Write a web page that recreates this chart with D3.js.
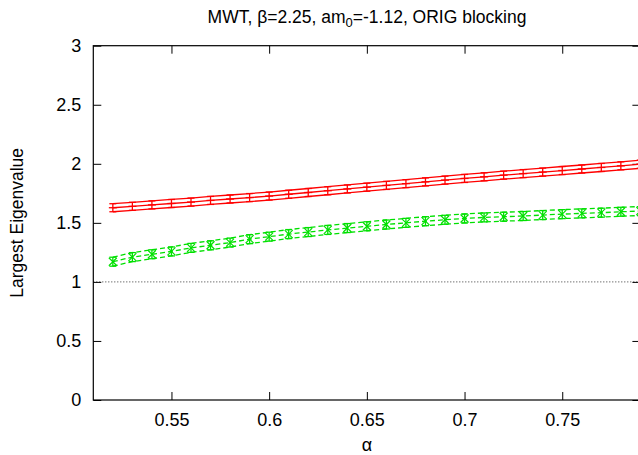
<!DOCTYPE html>
<html>
<head>
<meta charset="utf-8">
<script src="https://cdn.jsdelivr.net/npm/d3@7"></script>
<style>
  html, body { margin: 0; padding: 0; background: #fff; }
  svg { display: block; font-family: "Liberation Sans", Arial, Helvetica, sans-serif; }
</style>
</head>
<body>
<svg id="chart" width="638" height="455"></svg>
<script>
// Largest eigenvalue versus alpha, two runs with statistical errors
const alphas = [0.52, 0.53, 0.54, 0.55, 0.56, 0.57, 0.58, 0.59, 0.60, 0.61,
                0.62, 0.63, 0.64, 0.65, 0.66, 0.67, 0.68, 0.69, 0.70, 0.71,
                0.72, 0.73, 0.74, 0.75, 0.76, 0.77, 0.78, 0.79];

const redMean = [1.628, 1.640, 1.652, 1.664, 1.676, 1.690, 1.702, 1.714, 1.727, 1.742,
                 1.757, 1.772, 1.787, 1.802, 1.817, 1.832, 1.847, 1.862, 1.876, 1.890,
                 1.904, 1.917, 1.930, 1.943, 1.956, 1.969, 1.983, 1.996];
const redErr = [0.034, 0.034, 0.034, 0.034, 0.034, 0.034, 0.034, 0.034, 0.034, 0.034,
                0.034, 0.034, 0.034, 0.034, 0.034, 0.034, 0.034, 0.034, 0.034, 0.034,
                0.034, 0.034, 0.034, 0.034, 0.034, 0.034, 0.034, 0.034];

const greenMean = [1.171, 1.210, 1.234, 1.258, 1.288, 1.310, 1.333, 1.362, 1.383, 1.405,
                   1.422, 1.440, 1.456, 1.471, 1.486, 1.500, 1.514, 1.526, 1.537, 1.546,
                   1.552, 1.558, 1.566, 1.574, 1.580, 1.586, 1.594, 1.600];
const greenErr = [0.038, 0.038, 0.038, 0.038, 0.038, 0.038, 0.038, 0.038, 0.038, 0.038,
                  0.038, 0.038, 0.038, 0.038, 0.038, 0.038, 0.038, 0.038, 0.038, 0.038,
                  0.038, 0.038, 0.038, 0.038, 0.038, 0.038, 0.038, 0.038];

const xTicks = [0.55, 0.6, 0.65, 0.7, 0.75];
const yTicks = [0, 0.5, 1, 1.5, 2, 2.5, 3];
const refLevel = 1;

const svg = d3.select("#chart");
const plotL = 93.3, plotR = 640.4, plotT = 45.7, plotB = 400;

const x = d3.scaleLinear().domain([0.51, 0.79]).range([plotL, plotR]);
const y = d3.scaleLinear().domain([0, 3]).range([plotB, plotT]);
const fmt = d3.format("~g");
const fontSize = 18;

// axes with inward ticks on all four sides
function styleAxis(g) {
  g.select(".domain").remove();
  g.selectAll(".tick line").attr("stroke", "#000").attr("stroke-width", 1);
  g.selectAll(".tick text").attr("fill", "#000")
    .style("font-size", fontSize + "px")
    .style("font-family", '"Liberation Sans", Arial, sans-serif');
}

svg.append("g").attr("transform", `translate(0,${plotB})`)
  .call(d3.axisBottom(x).tickValues(xTicks).tickFormat(fmt).tickSizeInner(-8).tickPadding(13))
  .call(styleAxis);
svg.append("g").attr("transform", `translate(0,${plotT})`)
  .call(d3.axisTop(x).tickValues(xTicks).tickFormat("").tickSizeInner(-8))
  .call(styleAxis);
svg.append("g").attr("transform", `translate(${plotL},0)`)
  .call(d3.axisLeft(y).tickValues(yTicks).tickFormat(fmt).tickSizeInner(-8).tickPadding(12))
  .call(styleAxis);
svg.append("g").attr("transform", `translate(${plotR},0)`)
  .call(d3.axisRight(y).tickValues(yTicks).tickFormat("").tickSizeInner(-8))
  .call(styleAxis);

// plot frame
svg.append("rect")
  .attr("x", plotL).attr("y", plotT)
  .attr("width", plotR - plotL).attr("height", plotB - plotT)
  .attr("fill", "none").attr("stroke", "#000").attr("stroke-width", 1.2);

// reference line at eigenvalue 1
svg.append("line")
  .attr("x1", plotL).attr("x2", plotR)
  .attr("y1", y(refLevel)).attr("y2", y(refLevel))
  .attr("stroke", "#000").attr("stroke-width", 0.8)
  .attr("stroke-dasharray", "1,2");

function drawSeries(mean, err, color, dash, marker) {
  const g = svg.append("g");
  const pts = alphas.map((a, i) => ({ a, m: mean[i], e: err[i] }));
  const line = d3.line().x(d => x(d[0])).y(d => y(d[1]));
  const bands = [
    pts.map(p => [p.a, p.m]),
    pts.map(p => [p.a, p.m + p.e]),
    pts.map(p => [p.a, p.m - p.e])
  ];
  bands.forEach(b => {
    g.append("path").attr("d", line(b))
      .attr("fill", "none").attr("stroke", color).attr("stroke-width", 1.3)
      .attr("stroke-dasharray", dash);
  });
  const cap = 3.5;
  pts.forEach(p => {
    const cx = x(p.a), yt = y(p.m + p.e), yb = y(p.m - p.e), ym = y(p.m);
    g.append("line").attr("x1", cx).attr("x2", cx).attr("y1", yt).attr("y2", yb)
      .attr("stroke", color).attr("stroke-width", 1.3);
    [yt, yb].forEach(yy => g.append("line")
      .attr("x1", cx - cap).attr("x2", cx + cap).attr("y1", yy).attr("y2", yy)
      .attr("stroke", color).attr("stroke-width", 1.3));
    if (marker === "plus") {
      g.append("line").attr("x1", cx - 4).attr("x2", cx + 4).attr("y1", ym).attr("y2", ym)
        .attr("stroke", color).attr("stroke-width", 1.3);
    } else {
      const s = 4;
      g.append("path")
        .attr("d", `M${cx - s},${ym - s}L${cx + s},${ym + s}M${cx - s},${ym + s}L${cx + s},${ym - s}`)
        .attr("stroke", color).attr("stroke-width", 1.2).attr("fill", "none");
    }
  });
}

drawSeries(greenMean, greenErr, "#00e000", "5,3", "cross");
drawSeries(redMean, redErr, "#ff0000", null, "plus");

// title
const title = svg.append("text")
  .attr("x", 367).attr("y", 23)
  .attr("text-anchor", "middle")
  .style("font-size", "17.5px")
  .attr("fill", "#000");
title.append("tspan").text("MWT, β=2.25, am");
title.append("tspan").attr("dy", 4).style("font-size", "13px").text("0");
title.append("tspan").attr("dy", -4).text("=-1.12, ORIG blocking");

// axis titles
svg.append("text")
  .attr("x", 367).attr("y", 451)
  .attr("text-anchor", "middle")
  .style("font-size", fontSize + "px")
  .attr("fill", "#000")
  .text("α");

svg.append("text")
  .attr("transform", `translate(23,${(plotT + plotB) / 2}) rotate(-90)`)
  .attr("text-anchor", "middle")
  .style("font-size", "17.5px")
  .attr("fill", "#000")
  .text("Largest Eigenvalue");
</script>
</body>
</html>
